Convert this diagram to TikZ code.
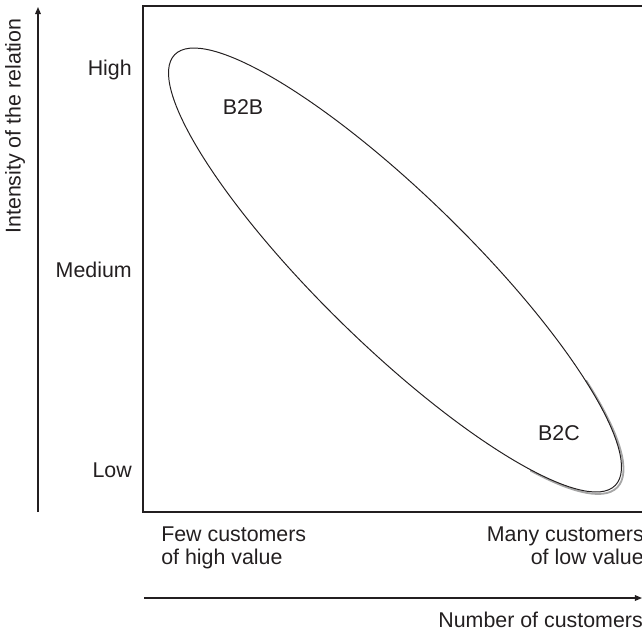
\documentclass[tikz,border=0pt]{standalone}
\usepackage{fontspec}
\setsansfont{Liberation Sans}
\usepackage{tikz}
\usetikzlibrary{
  arrows.meta,
  positioning,
  shapes.geometric
}
\definecolor{ink}{RGB}{35,31,32}

\begin{document}
\begin{tikzpicture}[
  x=0.025cm, y=-0.025cm,
  every node/.style={font=\sffamily\fontsize{15.2}{16.6}\selectfont, text=ink},
  frameline/.style={draw=ink, line width=0.95pt},
  axisline/.style={draw=ink, line width=0.85pt, -{Triangle[length=5pt,width=4pt]}},
  level/.style={anchor=east, inner sep=0pt},
  cluster/.style={ellipse, draw=ink, line width=0.7pt, inner sep=0pt,
                  minimum width=15.4cm, minimum height=3.75cm, rotate=-44.35},
]
\useasboundingbox (0,0) rectangle (642,633);

% axes
\coordinate (yfoot) at (38,512);
\coordinate (ytip)  at (38,7);
\coordinate (xfoot) at (144,598);
\coordinate (xtip)  at (642,598);
\draw[axisline] (yfoot) -- (ytip);
\draw[axisline] (xfoot) -- (xtip);
\node[rotate=90, inner sep=0pt] (ylab) at (15,126) {Intensity of the relation};
\node[anchor=north east, inner sep=0pt] (xlab) at (643,612) {Number of customers};

% open frame
\coordinate (tr) at (650,6);
\coordinate (tl) at (143,6);
\coordinate (bl) at (143,512);
\coordinate (br) at (650,512);
\draw[frameline] (tr) -- (tl) -- (bl) -- (br);

% levels
\node[level] (high) at (132,70)  {High};
\node[level] (med)  at (132,270) {Medium};
\node[level] (low)  at (132,470) {Low};

% customer groups
\node[anchor=north west, inner sep=0pt, align=left] (few) at (161,526)
  {Few customers\\of high value};
\node[anchor=north east, inner sep=0pt, align=right] (many) at (644,526)
  {Many customers\\of low value};

% ellipse with shadow
\begin{scope}
  \clip (530,380) rectangle (642,510);
  \node[cluster, draw=gray!70, line width=1.3pt] (shade) at (397,272) {};
\end{scope}
\node[cluster] (rel) at (395,270) {};
\node (btob) at (243,107) {B2B};
\node (btoc) at (559,433) {B2C};

\end{tikzpicture}
\end{document}
